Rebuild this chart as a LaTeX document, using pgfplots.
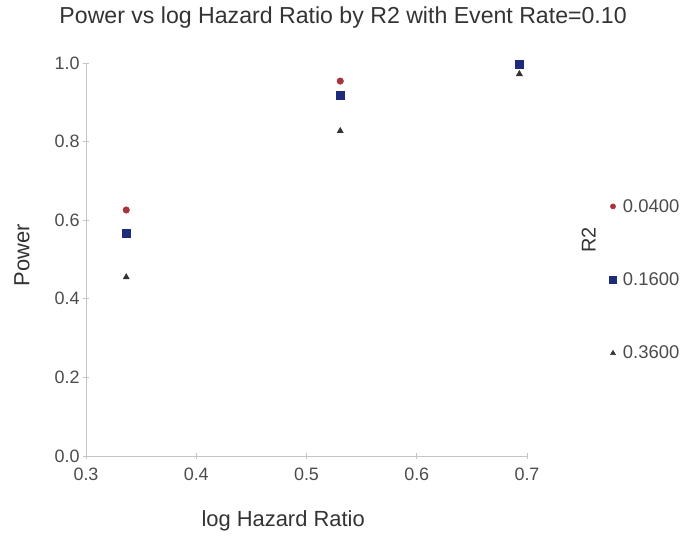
\documentclass[border=0pt]{standalone}
\usepackage{fontspec}
\setmainfont{Liberation Sans}
\usepackage{pgfplots}
\usetikzlibrary{calc}
\pgfplotsset{compat=1.18}
\definecolor{cred}{HTML}{A8323E}
\definecolor{cblue}{HTML}{1E2A7A}
\definecolor{cgray}{HTML}{333333}
\definecolor{axgray}{HTML}{C4C4C4}
\begin{document}
\begin{tikzpicture}
\begin{axis}[
  scale only axis,
  width=441bp, height=393bp,
  xmin=0.3, xmax=0.7, ymin=0, ymax=1.0,
  axis lines*=left,
  axis line style={axgray, line width=1pt},
  every tick/.style={axgray, line width=0.8pt},
  tick align=center,
  major tick length=6bp,
  xtick={0.3,0.4,0.5,0.6,0.7},
  ytick={0,0.2,0.4,0.6,0.8,1.0},
  xticklabel style={/pgf/number format/fixed, /pgf/number format/fixed zerofill, /pgf/number format/precision=1, font=\fontsize{18}{21}\selectfont, text=black!70, yshift=-5bp},
  yticklabel style={/pgf/number format/fixed, /pgf/number format/fixed zerofill, /pgf/number format/precision=1, font=\fontsize{18}{21}\selectfont, text=black!70},
  /pgf/number format/assume math mode=true,
  clip=false,
  legend style={at={(rel axis cs:1.18,0.664)}, anchor=north west, draw=none, fill=none,
    font=\fontsize{18.5}{21}\selectfont, text=black!70, row sep=55bp,
    legend cell align=left, nodes={inner xsep=6.5bp}},
  legend image code/.code={\draw[#1, every mark/.append style={scale=0.8}] plot coordinates {(0.15cm,0cm)};},
]
\addplot[only marks, mark=*, mark size=3.3bp, color=cred] coordinates {
 (0.3365,0.626) (0.5306,0.954) (0.6931,0.998)};
\addlegendentry{0.0400}
\addplot[only marks, mark=square*, mark size=4.3bp, color=cblue] coordinates {
 (0.3365,0.567) (0.5306,0.918) (0.6931,0.997)};
\addlegendentry{0.1600}
\addplot[only marks, mark=triangle*, mark size=3.6bp, color=cgray] coordinates {
 (0.3365,0.455) (0.5306,0.827) (0.6931,0.972)};
\addlegendentry{0.3600}
\node[yshift=45bp, font=\fontsize{23.2}{27}\selectfont, text=black!80] at (rel axis cs:0.583,1) {Power vs log Hazard Ratio by R2 with Event Rate=0.10};
\node[xshift=-64bp, rotate=90, font=\fontsize{22}{26}\selectfont, text=black!80] at (rel axis cs:0,0.511) {Power};
\node[yshift=-65bp, font=\fontsize{22}{26}\selectfont, text=black!80] at (rel axis cs:0.447,0) {log Hazard Ratio};
\node[font=\fontsize{20}{24}\selectfont, text=black!80, rotate=90] at (rel axis cs:1.14,0.55) {R2};
\end{axis}
\pgfresetboundingbox
\path (current axis.south west) ++(-86bp,-80bp) rectangle ($(current axis.north east)+(160bp,63bp)$);
\end{tikzpicture}
\end{document}
